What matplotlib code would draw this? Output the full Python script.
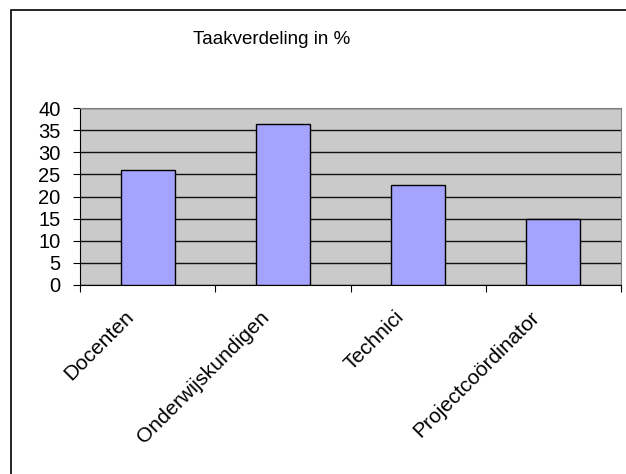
import matplotlib
matplotlib.use('Agg')
import matplotlib.pyplot as plt
from matplotlib.patches import Rectangle
from matplotlib.transforms import offset_copy
import numpy as np

plt.rcParams['font.family'] = ['Liberation Sans', 'DejaVu Sans']

categories = ['Docenten', 'Onderwijskundigen', 'Technici', 'Projectcoördinator']
values = [26.0, 36.3, 22.5, 15.0]
yticks = [0, 5, 10, 15, 20, 25, 30, 35, 40]

fig = plt.figure(figsize=(6.26, 4.74), dpi=100)
ax = fig.add_axes([80 / 626, 1 - 285 / 474, 541 / 626, 177 / 474])

x = np.arange(len(categories))
ax.set_facecolor('#CACACA')
ax.set_axisbelow(True)
ax.yaxis.grid(True, color='#111111', linewidth=1)
ax.bar(x, values, width=0.4, color='#A4A4FF', edgecolor='black', linewidth=1, zorder=3)

ax.set_xlim(-0.5, len(categories) - 0.5)
ax.set_ylim(0, 40)
ax.set_yticks(yticks)
ax.tick_params(axis='y', labelsize=14.5, length=5, direction='out', pad=9)

# category boundary ticks, like Excel
ax.set_xticks(np.arange(len(categories) + 1) - 0.5)
ax.set_xticklabels([])
ax.tick_params(axis='x', length=5, direction='out')

# rotated category labels ending just left of the category centre
trans = offset_copy(ax.get_xaxis_transform(), fig=fig, x=-17, y=-29, units='dots')
for xi, name in zip(x, categories):
    ax.text(xi, 0, name, transform=trans, rotation=45, ha='right', va='center',
            rotation_mode='anchor', fontsize=15, clip_on=False)

for side in ['top', 'right']:
    ax.spines[side].set_color('#808080')
for side in ['left', 'bottom']:
    ax.spines[side].set_color('black')

fig.text(272 / 626, 1 - 40 / 474, 'Taakverdeling in %', ha='center', va='center', fontsize=13.5)

# chart area border
fig.patches.append(Rectangle((11 / 626, -0.1), 1.1, 1.1 - 10 / 474,
                             transform=fig.transFigure, fill=False,
                             edgecolor='black', linewidth=1.2))

fig.savefig('out.png', dpi=100)
